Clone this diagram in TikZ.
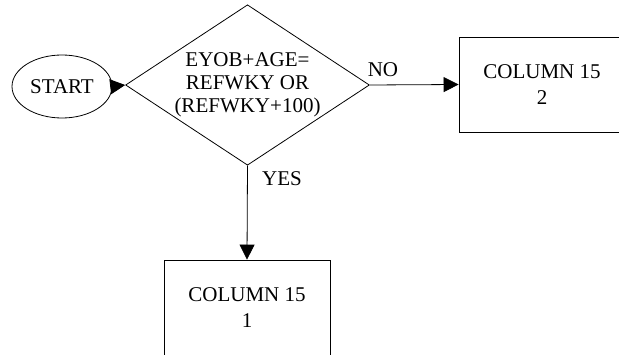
\documentclass[tikz,border=0pt]{standalone}
\usepackage{fontspec}
\setmainfont{Liberation Serif}
\usetikzlibrary{shapes.geometric,arrows.meta}
\begin{document}
\begin{tikzpicture}[x=1pt,y=-1pt,
  every node/.style={font=\fontsize{21}{23}\selectfont, inner sep=0pt},
  shapeline/.style={draw, line width=0.8pt},
  flow/.style={line width=0.8pt, -{Triangle[length=15pt,width=15pt]}},
  procbox/.style={shapeline, rectangle, minimum width=166pt, minimum height=95pt, align=center,
    font=\fontsize{21}{26.5}\selectfont},
  tag/.style={font=\fontsize{21}{23}\selectfont}]
  \useasboundingbox (0,0) rectangle (619,355);
  \clip (0,0) rectangle (619,355);
  % start terminal
  \node[shapeline, ellipse, minimum width=100pt, minimum height=63pt] (start) at (62,86.5) {START};
  % decision
  \node[shapeline, diamond, aspect=1.52, minimum width=243pt, minimum height=160pt, align=center] (test) at (247.5,85)
    {EYOB+AGE=\\REFWKY OR\\(REFWKY+100)};
  % outcomes
  \node[procbox] (col2) at (542,84.5) {COLUMN 15\\2};
  \node[procbox] (col1) at (247,307.5) {COLUMN 15\\1};
  % connectors
  \draw[flow] (start.east) -- (test.west);
  \draw[flow] (test.east) -- (col2.west);
  \draw[flow] (test.south) -- (col1.north);
  % branch labels
  \node[tag] (nolab) at (383,70) {NO};
  \node[tag] (yeslab) at (282,179) {YES};
\end{tikzpicture}
\end{document}
